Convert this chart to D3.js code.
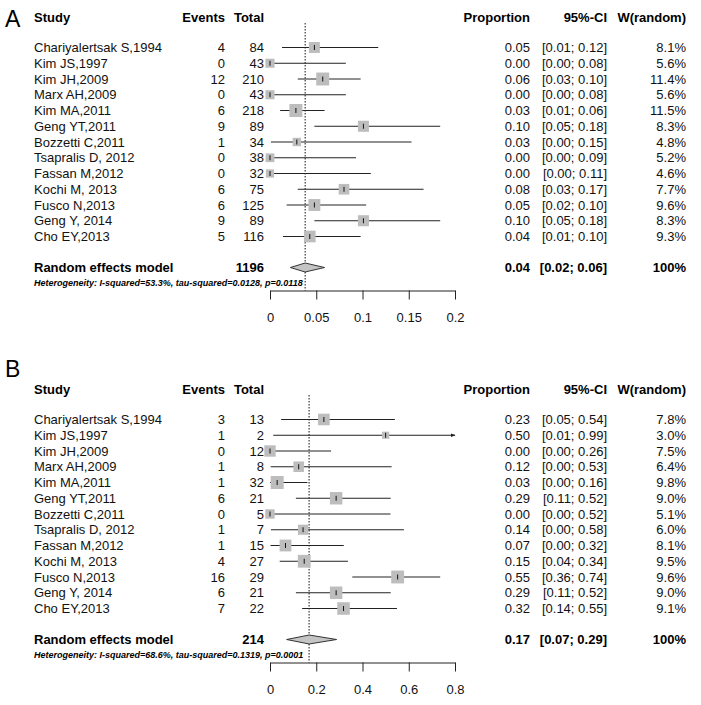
<!DOCTYPE html>
<html lang="en">
<head>
    <meta charset="UTF-8">
    <title>Forest plots A and B</title>
    <script src="https://cdnjs.cloudflare.com/ajax/libs/d3/7.8.5/d3.min.js"></script>
    <style>
        body { margin: 0; padding: 0; background: #fff; }
        svg text { font-family: "Liberation Sans", Arial, sans-serif; }
    </style>
</head>
<body>
    <div id="chart"></div>

    <script>
        // study labels (same order in both panels)
        const studies = ["Chariyalertsak S,1994", "Kim JS,1997", "Kim JH,2009", "Marx AH,2009",
            "Kim MA,2011", "Geng YT,2011", "Bozzetti C,2011", "Tsapralis D, 2012", "Fassan M,2012",
            "Kochi M, 2013", "Fusco N,2013", "Geng Y, 2014", "Cho EY,2013"];

        // panel A
        const eventsA = [4, 0, 12, 0, 6, 9, 1, 0, 0, 6, 6, 9, 5];
        const totalA = [84, 43, 210, 43, 218, 89, 34, 38, 32, 75, 125, 89, 116];
        const propA = [0.048, 0, 0.057, 0, 0.028, 0.101, 0.029, 0, 0, 0.080, 0.048, 0.101, 0.043];
        const lowerA = [0.013, 0, 0.030, 0, 0.011, 0.048, 0.001, 0, 0, 0.030, 0.018, 0.048, 0.014];
        const upperA = [0.117, 0.082, 0.098, 0.082, 0.059, 0.184, 0.153, 0.093, 0.109, 0.166, 0.104, 0.184, 0.098];
        const weightA = [8.1, 5.6, 11.4, 5.6, 11.5, 8.3, 4.8, 5.2, 4.6, 7.7, 9.6, 8.3, 9.3];
        const pooledA = [0.038, 0.022, 0.059];
        const totalSumA = 1196;
        const hetA = "Heterogeneity: I-squared=53.3%, tau-squared=0.0128, p=0.0118";
        const ticksA = [0, 0.05, 0.1, 0.15, 0.2];

        // panel B
        const eventsB = [3, 1, 0, 1, 1, 6, 0, 1, 1, 4, 16, 6, 7];
        const totalB = [13, 2, 12, 8, 32, 21, 5, 7, 15, 27, 29, 21, 22];
        const propB = [0.233, 0.50, 0, 0.124, 0.031, 0.286, 0, 0.143, 0.067, 0.148, 0.552, 0.286, 0.318];
        const lowerB = [0.048, 0.014, 0, 0.003, 0, 0.112, 0, 0.004, 0.002, 0.042, 0.356, 0.112, 0.139];
        const upperB = [0.54, 0.99, 0.264, 0.526, 0.162, 0.522, 0.521, 0.579, 0.319, 0.337, 0.736, 0.522, 0.549];
        const weightB = [7.8, 3.0, 7.5, 6.4, 9.8, 9.0, 5.1, 6.0, 8.1, 9.5, 9.6, 9.0, 9.1];
        const pooledB = [0.169, 0.072, 0.288];
        const totalSumB = 214;
        const hetB = "Heterogeneity: I-squared=68.6%, tau-squared=0.1319, p=0.0001";
        const ticksB = [0, 0.2, 0.4, 0.6, 0.8];

        const width = 701;
        const height = 705;

        const svg = d3.select("#chart")
            .append("svg")
            .attr("width", width)
            .attr("height", height);

        svg.append("rect").attr("width", width).attr("height", height).attr("fill", "#fff");

        svg.append("defs").append("marker")
            .attr("id", "arrow")
            .attr("viewBox", "0 0 10 10")
            .attr("refX", 9).attr("refY", 5)
            .attr("markerWidth", 5).attr("markerHeight", 5)
            .attr("orient", "auto")
            .append("path")
            .attr("d", "M0,1L10,5L0,9Z")
            .attr("fill", "#222");

        const f2 = d3.format(".2f");
        const f1 = d3.format(".1f");

        function drawPanel(p) {
            const g = svg.append("g").attr("transform", `translate(0,${p.oy})`);
            const x = d3.scaleLinear().domain([0, p.ticks[p.ticks.length - 1]]).range([270, 455]);
            const y = d3.scaleLinear().domain([0, studies.length - 1]).range([47.5, 236.5]);
            const yPool = 267.5;
            const axisY = 290.5;
            const maxW = d3.max(p.weight);
            const side = w => 13 * Math.sqrt(w / maxW);
            const rows = studies.map((s, i) => ({
                s, ev: p.events[i], n: p.total[i], est: p.prop[i], lo: p.lower[i], hi: p.upper[i], w: p.weight[i]
            }));

            // headers
            const head = g.append("g").attr("font-size", 13).attr("font-weight", "bold");
            head.append("text").attr("x", 34).attr("y", 22).text("Study");
            const hr = [[225, "Events"], [264, "Total"], [530, "Proportion"], [607, "95%-CI"], [686, "W(random)"]];
            hr.forEach(([hx, t]) => head.append("text").attr("x", hx).attr("y", 22).attr("text-anchor", "end").text(t));

            // study rows
            const cols = [
                {x: 34, anchor: "start", f: d => d.s},
                {x: 225, anchor: "end", f: d => d.ev},
                {x: 264, anchor: "end", f: d => d.n},
                {x: 530, anchor: "end", f: d => f2(d.est)},
                {x: 607, anchor: "end", f: d => `[${f2(d.lo)}; ${f2(d.hi)}]`},
                {x: 686, anchor: "end", f: d => f1(d.w) + "%"}
            ];
            cols.forEach(c => {
                g.append("g").selectAll("text")
                    .data(rows)
                    .join("text")
                    .attr("x", c.x)
                    .attr("y", (d, i) => y(i) + 4.7)
                    .attr("text-anchor", c.anchor)
                    .attr("font-size", 13)
                    .attr("fill", "#111")
                    .text(c.f);
            });

            // pooled row
            const pool = g.append("g").attr("font-size", 13).attr("font-weight", "bold");
            pool.append("text").attr("x", 34).attr("y", yPool + 4.7).text("Random effects model");
            [[264, p.totalSum], [530, f2(p.pooled[0])], [607, `[${f2(p.pooled[1])}; ${f2(p.pooled[2])}]`], [686, "100%"]]
                .forEach(([px, t]) => pool.append("text").attr("x", px).attr("y", yPool + 4.7)
                    .attr("text-anchor", "end").text(t));

            g.append("text")
                .attr("x", 34).attr("y", 286)
                .attr("font-size", 9)
                .attr("font-weight", "bold")
                .attr("font-style", "italic")
                .text(p.het);

            // reference line at pooled estimate
            g.append("line")
                .attr("x1", x(p.pooled[0])).attr("x2", x(p.pooled[0]))
                .attr("y1", 23).attr("y2", axisY)
                .attr("stroke", "#111")
                .attr("stroke-width", 1)
                .attr("stroke-dasharray", "1.5,1.5");

            // CI lines
            g.append("g").selectAll("line")
                .data(rows)
                .join("line")
                .attr("x1", d => x(d.lo))
                .attr("x2", d => x(Math.min(d.hi, x.domain()[1])))
                .attr("y1", (d, i) => y(i))
                .attr("y2", (d, i) => y(i))
                .attr("stroke", "#222")
                .attr("stroke-width", 1)
                .attr("marker-end", d => d.hi > x.domain()[1] ? "url(#arrow)" : null);

            // weight boxes
            g.append("g").selectAll("rect")
                .data(rows)
                .join("rect")
                .attr("x", d => x(d.est) - side(d.w) / 2)
                .attr("y", (d, i) => y(i) - side(d.w) / 2)
                .attr("width", d => side(d.w))
                .attr("height", d => side(d.w))
                .attr("fill", "#bdbdbd");

            // point marks
            g.append("g").selectAll("line")
                .data(rows)
                .join("line")
                .attr("x1", d => x(d.est))
                .attr("x2", d => x(d.est))
                .attr("y1", (d, i) => y(i) - 2.5)
                .attr("y2", (d, i) => y(i) + 2.5)
                .attr("stroke", "#111")
                .attr("stroke-width", 1);

            // diamond
            const [pe, pl, ph] = p.pooled;
            g.append("path")
                .attr("d", `M${x(pl)},${yPool}L${x(pe)},${yPool - 4.5}L${x(ph)},${yPool}L${x(pe)},${yPool + 4.5}Z`)
                .attr("fill", "#c4c4c4")
                .attr("stroke", "#333")
                .attr("stroke-width", 1);

            // axis
            const axis = g.append("g")
                .attr("transform", `translate(0,${axisY})`)
                .call(d3.axisBottom(x)
                    .tickValues(p.ticks)
                    .tickFormat(d3.format("~g"))
                    .tickSize(9)
                    .tickSizeOuter(0)
                    .tickPadding(13));
            axis.select(".domain").attr("stroke", "#222");
            axis.selectAll(".tick line").attr("stroke", "#222");
            axis.selectAll(".tick text")
                .attr("font-size", 13)
                .attr("font-family", "Liberation Sans, Arial, sans-serif")
                .attr("fill", "#111");
        }

        svg.append("text").attr("x", 5).attr("y", 27).attr("font-size", 23).attr("font-weight", 300).text("A");
        svg.append("text").attr("x", 5).attr("y", 377).attr("font-size", 23).attr("font-weight", 300).text("B");

        drawPanel({oy: 0, events: eventsA, total: totalA, prop: propA, lower: lowerA, upper: upperA,
            weight: weightA, pooled: pooledA, totalSum: totalSumA, het: hetA, ticks: ticksA});
        drawPanel({oy: 372, events: eventsB, total: totalB, prop: propB, lower: lowerB, upper: upperB,
            weight: weightB, pooled: pooledB, totalSum: totalSumB, het: hetB, ticks: ticksB});
    </script>
</body>
</html>
